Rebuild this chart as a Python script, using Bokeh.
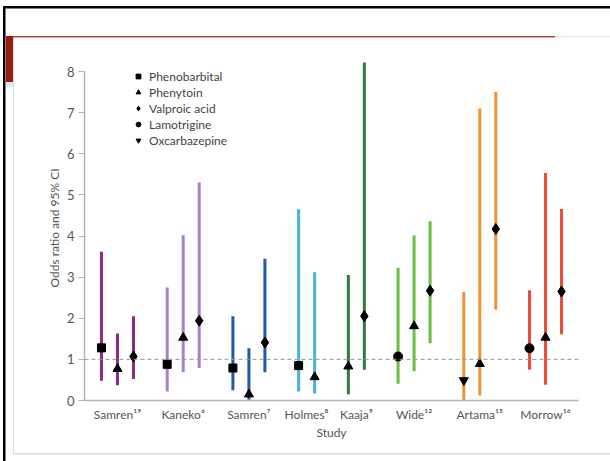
from bokeh.plotting import figure
from bokeh.models import Range1d, FixedTicker, Span, ColumnDataSource, Legend
from bokeh.embed import file_html
from bokeh.resources import INLINE

# ---------------- data ----------------
study_names = ["Samren", "Kaneko", "Samren", "Holmes", "Kaaja", "Wide", "Artama", "Morrow"]
study_refs = ["\u00b9\u2079", "\u2076", "\u2077", "\u2078", "\u2079", "\u00b9\u00b2", "\u00b9\u2075", "\u00b9\u2076"]
study_colors = ["#8e2b7d", "#a97fd2", "#2159ac", "#45b3e0", "#2f7a3c", "#6dbd45", "#f0922e", "#f04b37"]

row_study = [0, 0, 0, 1, 1, 1, 2, 2, 2, 3, 3, 4, 4, 5, 5, 5, 6, 6, 6, 7, 7, 7]
row_drug = ["Phenobarbital", "Phenytoin", "Valproic acid",
            "Phenobarbital", "Phenytoin", "Valproic acid",
            "Phenobarbital", "Phenytoin", "Valproic acid",
            "Phenobarbital", "Phenytoin",
            "Phenytoin", "Valproic acid",
            "Lamotrigine", "Phenytoin", "Valproic acid",
            "Oxcarbazepine", "Phenytoin", "Valproic acid",
            "Lamotrigine", "Phenytoin", "Valproic acid"]
row_or = [1.28, 0.77, 1.07, 0.88, 1.53, 1.94, 0.79, 0.15, 1.41, 0.85, 0.57,
          0.83, 2.05, 1.07, 1.81, 2.67, 0.49, 0.89, 4.17, 1.27, 1.53, 2.65]
row_lo = [0.48, 0.37, 0.52, 0.22, 0.69, 0.79, 0.25, 0.02, 0.69, 0.22, 0.17,
          0.15, 0.75, 0.41, 0.71, 1.39, 0.00, 0.12, 2.21, 0.75, 0.38, 1.61]
row_hi = [3.62, 1.63, 2.05, 2.75, 4.02, 5.30, 2.05, 1.27, 3.45, 4.65, 3.12,
          3.05, 8.22, 3.23, 4.01, 4.36, 2.64, 7.10, 7.50, 2.68, 5.53, 4.66]

drugs = ["Phenobarbital", "Phenytoin", "Valproic acid", "Lamotrigine", "Oxcarbazepine"]
drug_markers = ["square", "triangle", "diamond", "circle", "inverted_triangle"]
drug_sizes = [8, 9, 11, 9, 9]
key_sizes = [6.5, 7.5, 10, 7.5, 7.5]

y_ticks = [0, 1, 2, 3, 4, 5, 6, 7, 8]

# ---------------- positions (derived from group structure) ----------------
GAP = 1.107
xs = []
group_start = []
pos = 0.0
counts = [row_study.count(k) for k in range(len(study_names))]
for k, n in enumerate(counts):
    group_start.append(pos)
    for j in range(n):
        xs.append(pos + j)
    pos += n + GAP
tick_pos = [group_start[k] + (counts[k] - 1) / 2 for k in range(len(study_names))]

FONT = "Lato"
TXT = "#555555"

# page-frame decoration drawn as CSS backgrounds behind a transparent border area
def band(color, x, y, w, h):
    return f"linear-gradient({color},{color}) {x}px {y}px / {w}px {h}px no-repeat"

frame_css = ", ".join([
    band("#000000", 3, 6, 607, 2.5),
    band("#000000", 3, 6, 2.5, 455),
    band("#9b1c10", 5.5, 36, 7, 46),
    band("#dde8f0", 5.5, 82, 7, 5),
    band("#b0493b", 12, 35.5, 543, 1.5),
    band("#e4eae8", 555, 35.5, 55, 1.5),
    band("#cfe3d3", 13, 37, 1, 417),
    band("#cfe3d3", 13, 452.5, 597, 1.5),
]) + ", #ffffff"

p = figure(width=610, height=461, output_backend="svg", toolbar_location=None,
           x_range=Range1d(-1.06, 29.81), y_range=Range1d(0, 8.39),
           min_border_left=84, min_border_right=32, min_border_top=55, min_border_bottom=61)
p.styles = {"position": "fixed", "left": "0px", "top": "0px", "background": frame_css}
p.outline_line_color = None
p.xgrid.visible = False
p.ygrid.visible = False
p.background_fill_color = "white"
p.border_fill_alpha = 0

# reference line at OR = 1
p.add_layout(Span(location=1, dimension="width", line_color="#9a9a9a",
                  line_dash="4 3", line_width=1))

# CI bars
src = ColumnDataSource(dict(x=xs, lo=row_lo, hi=row_hi,
                            c=[study_colors[s] for s in row_study]))
p.segment(x0="x", y0="lo", x1="x", y1="hi", source=src, line_color="c",
          line_width=3, line_cap="butt")

# point estimates by drug
legend_items = []
for d, m, sz, ks in zip(drugs, drug_markers, drug_sizes, key_sizes):
    idx = [i for i, dd in enumerate(row_drug) if dd == d]
    s = ColumnDataSource(dict(x=[xs[i] for i in idx], y=[row_or[i] for i in idx]))
    # smaller key marker (hidden under the real marker), used only for the legend
    lr = p.scatter(x="x", y="y", source=s, marker=m, size=ks,
                   fill_color="black", line_color="black")
    p.scatter(x="x", y="y", source=s, marker=m, size=sz,
              fill_color="black", line_color="black")
    legend_items.append((d, [lr]))

legend = Legend(items=legend_items, location=(48, 252))
legend.background_fill_alpha = 0
legend.border_line_color = None
legend.padding = 0
legend.margin = 0
legend.spacing = 0
legend.glyph_width = 12
legend.glyph_height = 16
legend.label_height = 16
legend.label_standoff = 5
legend.label_text_font = FONT
legend.label_text_font_size = "12px"
legend.label_text_color = "#444444"
p.add_layout(legend)

# axes
ya = p.yaxis[0]
ya.ticker = FixedTicker(ticks=y_ticks)
ya.bounds = (0, 8)
ya.axis_label = "Odds ratio and 95% CI"
ya.axis_line_color = "#b5b5b5"
ya.axis_line_width = 1.5
ya.major_tick_line_color = "#b5b5b5"
ya.major_tick_out = 6
ya.major_tick_in = 0
ya.minor_tick_line_color = None
ya.major_label_text_font = FONT
ya.major_label_text_font_size = "13px"
ya.major_label_text_color = TXT
ya.major_label_standoff = 4
ya.axis_label_text_font = FONT
ya.axis_label_text_font_size = "12px"
ya.axis_label_text_font_style = "normal"
ya.axis_label_text_color = TXT
ya.axis_label_standoff = 2

xa = p.xaxis[0]
xa.ticker = FixedTicker(ticks=tick_pos)
xa.major_label_overrides = {tp: study_names[k] + study_refs[k] for k, tp in enumerate(tick_pos)}
xa.axis_label = "Study"
xa.axis_line_color = "#b5b5b5"
xa.axis_line_width = 1.5
xa.major_tick_line_color = None
xa.minor_tick_line_color = None
xa.major_label_text_font = FONT
xa.major_label_text_font_size = "12px"
xa.major_label_text_color = TXT
xa.major_label_standoff = 0
xa.axis_label_text_font = FONT
xa.axis_label_text_font_size = "12px"
xa.axis_label_text_font_style = "normal"
xa.axis_label_text_color = TXT
xa.axis_label_standoff = 0

open("out.html", "w").write(file_html(p, INLINE))
